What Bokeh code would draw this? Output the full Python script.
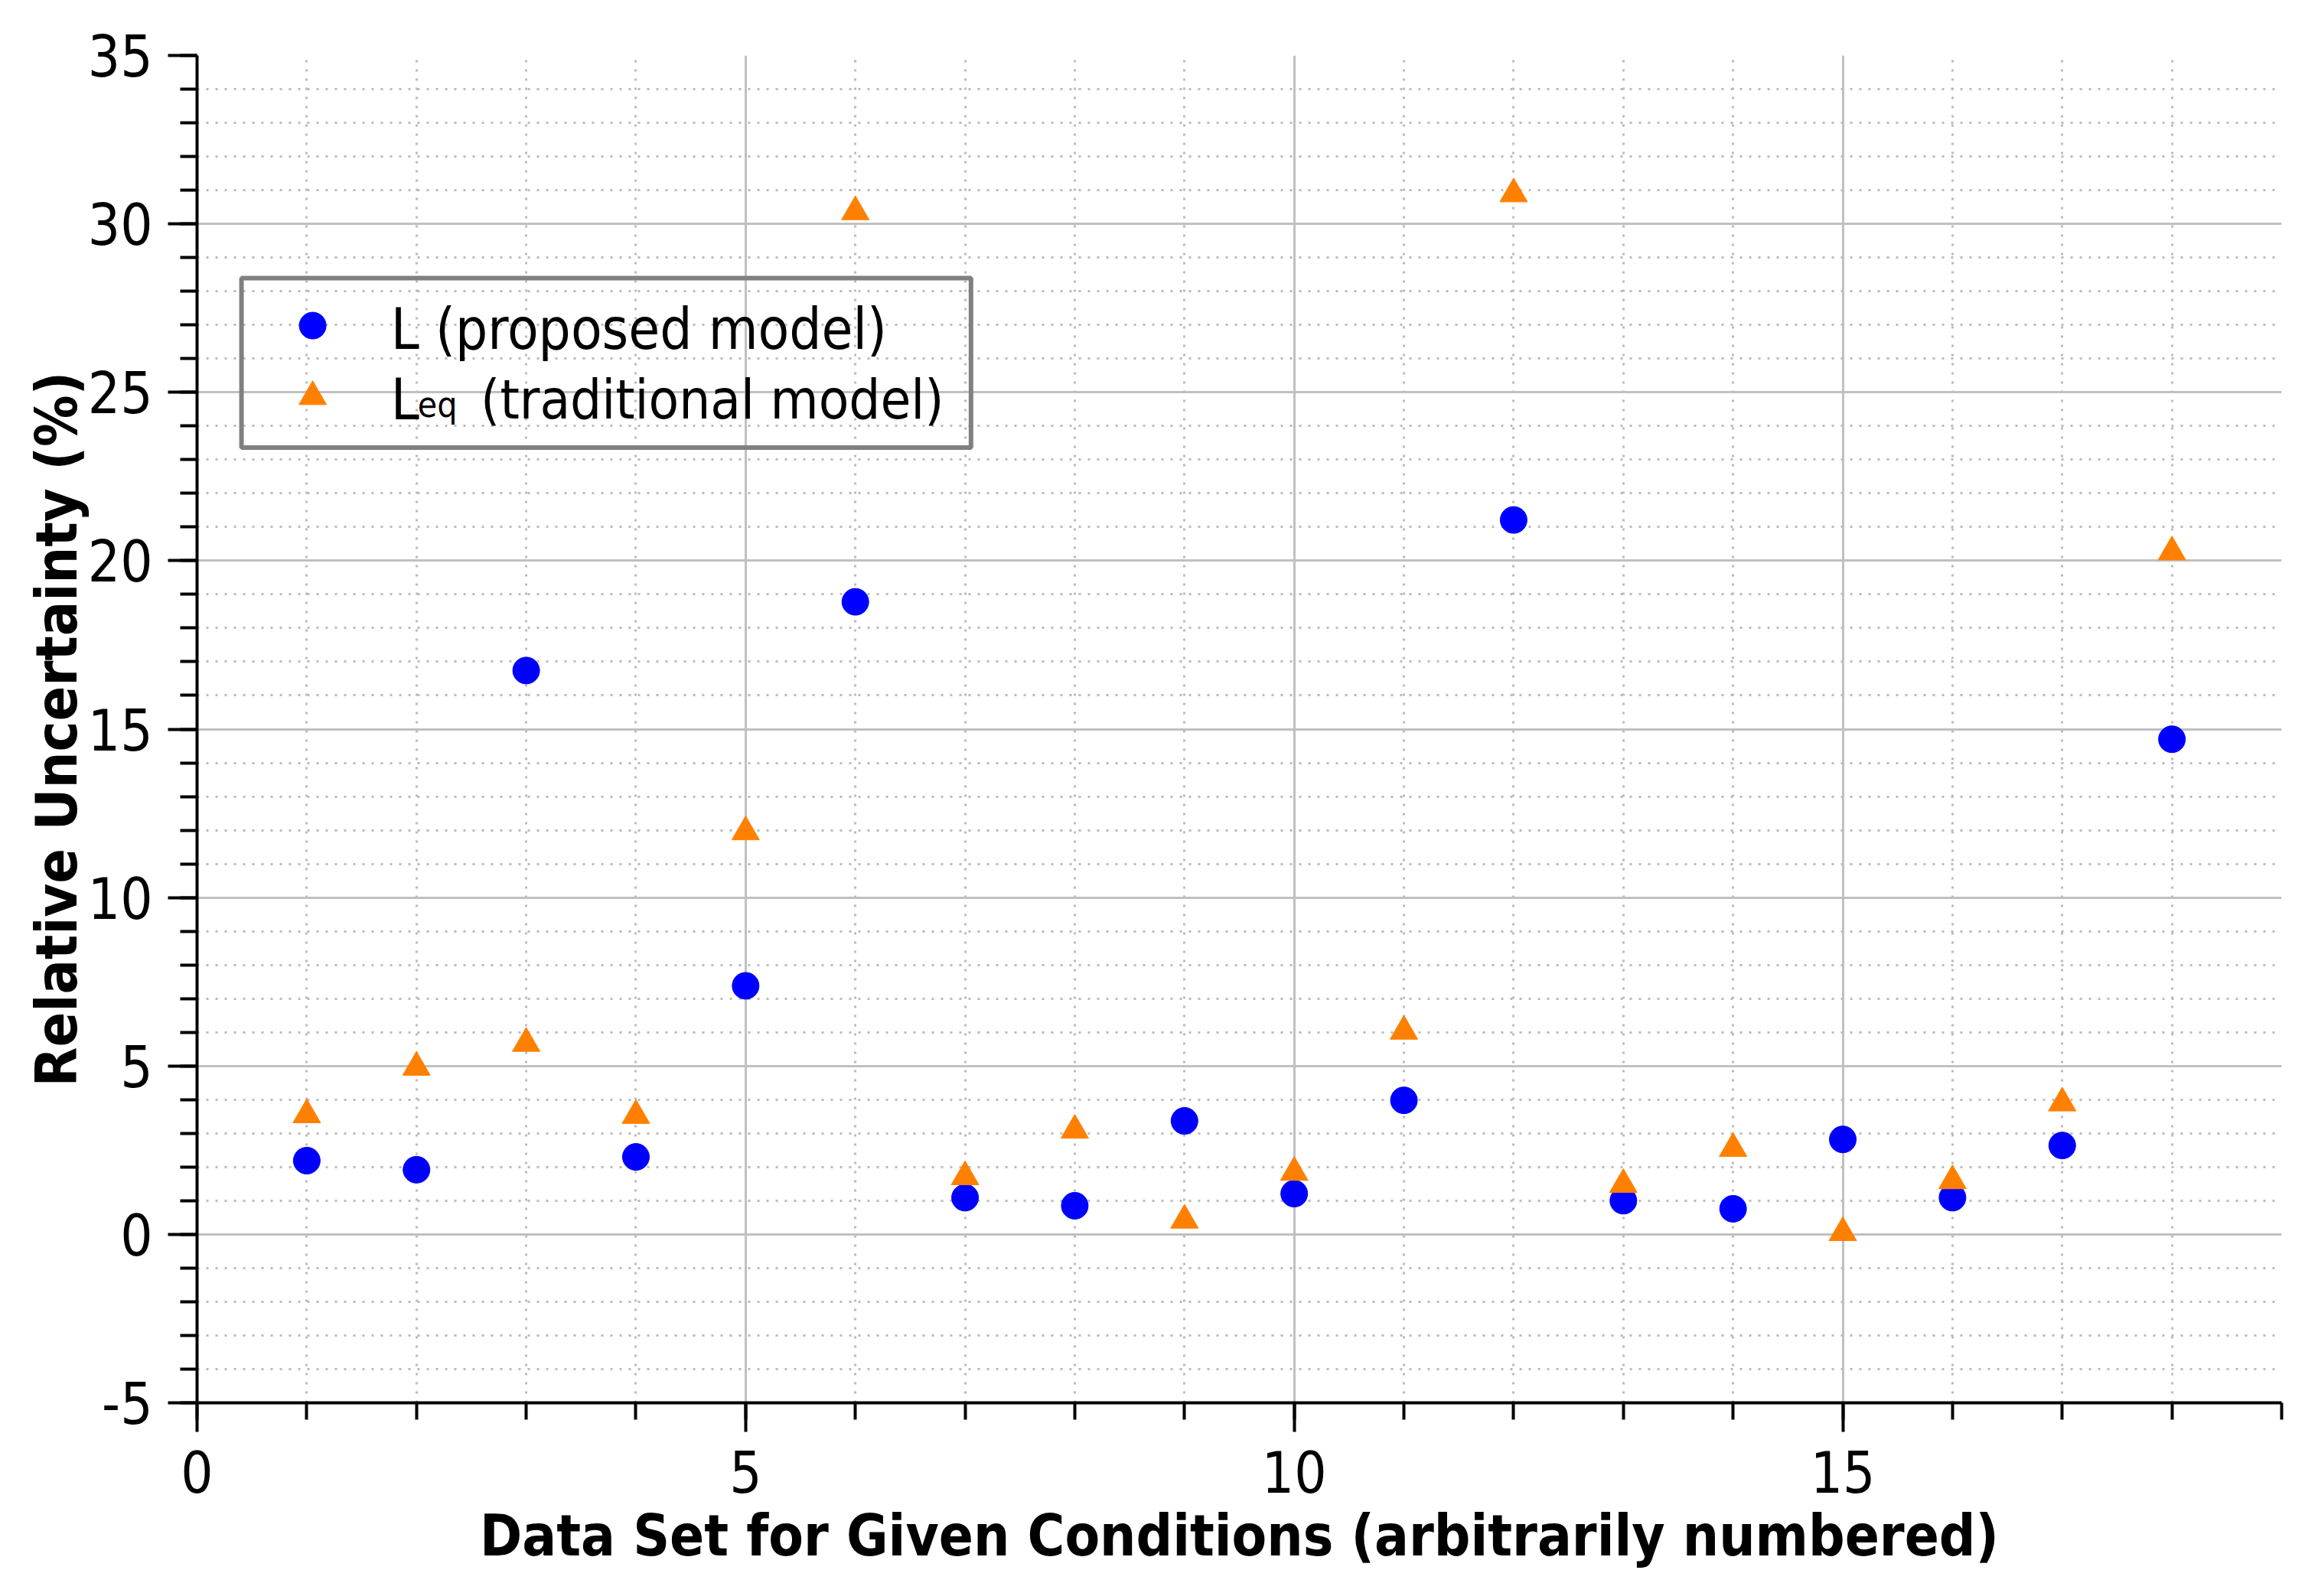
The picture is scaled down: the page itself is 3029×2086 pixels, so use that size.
from bokeh.plotting import figure
from bokeh.models import (SingleIntervalTicker, Range1d, BoxAnnotation, Label,
                          ColumnDataSource, CustomJSTickFormatter)
from bokeh.embed import file_html
from bokeh.resources import INLINE

# ---- data ----
data_set = list(range(1, 19))
L_proposed = [2.19, 1.92, 16.74, 2.30, 7.38, 18.78, 1.09, 0.85, 3.37,
              1.21, 3.98, 21.21, 1.00, 0.76, 2.82, 1.09, 2.64, 14.70]
Leq_traditional = [3.55, 4.96, 5.67, 3.53, 11.95, 30.36, 1.71, 3.09, 0.42,
                   1.84, 6.03, 30.89, 1.48, 2.55, 0.05, 1.59, 3.90, 20.26]
x_label = "Data Set for Given Conditions (arbitrarily numbered)"
y_label = "Relative Uncertainty (%)"
legend_L = "L (proposed model)"
legend_Leq_main = "L"
legend_Leq_sub = "eq"
legend_Leq_rest = "(traditional model)"

FONT = "DejaVu Sans Condensed"
BLUE = "#0000ff"
ORANGE = "#ff8000"

p = figure(width=3013, height=2070, output_backend="svg", toolbar_location=None,
           x_range=Range1d(0, 19), y_range=Range1d(-5, 35),
           min_border_left=257, min_border_right=32, min_border_top=72, min_border_bottom=237)
p.outline_line_color = None
p.background_fill_color = "white"
p.border_fill_color = "white"

fmt = CustomJSTickFormatter(code="return String(tick);")

for ax in (p.xaxis[0], p.yaxis[0]):
    ax.ticker = SingleIntervalTicker(interval=5, num_minor_ticks=5)
    ax.formatter = fmt
    ax.axis_line_width = 4
    ax.axis_line_color = "black"
    ax.major_tick_line_width = 4
    ax.minor_tick_line_width = 4
    ax.major_tick_line_color = "black"
    ax.minor_tick_line_color = "black"
    ax.major_tick_in = 0
    ax.major_tick_out = 38
    ax.minor_tick_in = 0
    ax.minor_tick_out = 22
    ax.major_label_text_font = FONT
    ax.major_label_text_font_size = "74px"
    ax.major_label_text_color = "black"
    ax.axis_label_text_font = FONT
    ax.axis_label_text_font_style = "bold"
    ax.axis_label_text_color = "black"

p.xaxis.axis_label = x_label
p.yaxis.axis_label = y_label
p.xaxis.axis_label_text_font_size = "74px"
p.yaxis.axis_label_text_font_size = "75px"
p.yaxis.major_label_standoff = 20
p.xaxis.major_label_standoff = 24
p.yaxis.axis_label_standoff = -6
p.xaxis.axis_label_standoff = 10

for g in (p.xgrid[0], p.ygrid[0]):
    g.grid_line_color = "#c0c0c0"
    g.grid_line_width = 3
    g.minor_grid_line_color = "#bcbcbc"
    g.minor_grid_line_width = 3
    g.minor_grid_line_dash = "3 9"

src = ColumnDataSource(dict(x=data_set, L=L_proposed, Leq=Leq_traditional))
p.scatter("x", "L", source=src, marker="circle", size=35, fill_color=BLUE, line_color=BLUE)
p.scatter("x", "Leq", source=src, marker="triangle", size=36, fill_color=ORANGE, line_color=ORANGE)

# ---- legend (manual, to allow the subscript) ----
box = BoxAnnotation(left=0.405, right=7.054, top=28.39, bottom=23.36,
                    fill_alpha=0, line_color="#808080", line_alpha=1, line_width=6)
p.add_layout(box)
p.scatter([1.054], [26.98], marker="circle", size=35, fill_color=BLUE, line_color=BLUE)
p.scatter([1.054], [24.87], marker="triangle", size=36, fill_color=ORANGE, line_color=ORANGE)

def lab(x, y, t, size="74px"):
    p.add_layout(Label(x=x, y=y, text=t, text_font=FONT, text_font_size=size,
                       text_color="black", text_baseline="alphabetic", text_align="left"))

lab(1.766, 26.88, legend_L)
lab(1.766, 24.79, legend_Leq_main)
lab(2.01, 24.64, legend_Leq_sub, "46px")
lab(2.585, 24.79, legend_Leq_rest, "72px")

open("out.html", "w").write(file_html(p, INLINE))
